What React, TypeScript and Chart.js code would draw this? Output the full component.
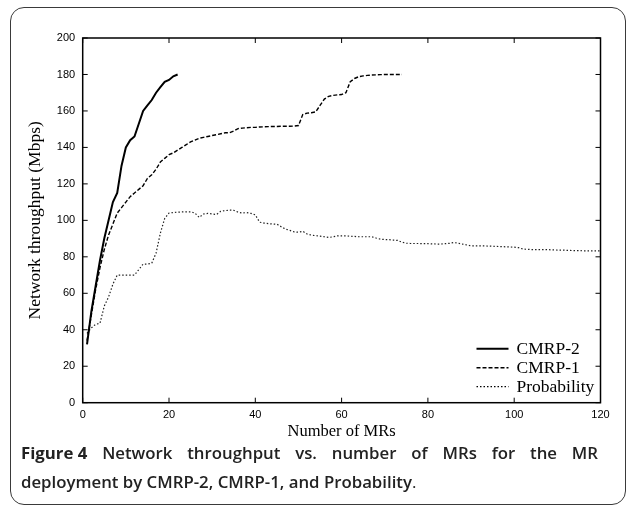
import React, { useEffect, useRef } from "react";
import { Chart, registerables } from "chart.js";

Chart.register(...registerables);

// ---- data ----
const cmrp2MRs = [1, 2, 3, 4, 5, 6, 7, 8, 9, 10, 11, 12, 13, 14, 15, 16, 17, 18, 19, 20, 21, 22];
const cmrp2Throughput = [32, 50, 64, 78, 90, 100, 110, 115, 130, 140, 144, 146, 153, 160, 163, 166, 170, 173, 176, 177, 179, 180];

const cmrp1MRs = [
  1, 2, 3, 4, 5, 6, 7, 8, 9, 10, 11, 12, 13, 14, 15, 16, 17, 18, 19, 20,
  21, 22, 23, 24, 25, 26, 27, 28, 29, 30, 31, 32, 33, 34, 35, 36, 37, 38, 39, 40,
  41, 42, 43, 44, 45, 46, 47, 48, 49, 50, 51, 52, 53, 54, 55, 56, 57, 58, 59, 60,
  61, 62, 63, 64, 65, 66, 67, 68, 69, 70, 71, 72, 73, 74,
];
const cmrp1Throughput = [
  34, 48, 62, 74, 84, 92, 98, 104, 107, 110, 113, 115, 117, 119, 123, 125, 128, 132, 134, 136,
  137, 138.5, 140, 141.5, 143, 144, 145, 145.5, 146, 146.5, 147, 147.5, 148, 148, 149, 150.3, 150.6, 150.8, 151, 151,
  151.2, 151.3, 151.4, 151.5, 151.5, 151.6, 151.6, 151.6, 151.7, 152, 158, 158.8, 159, 159.5, 163, 166.5, 168, 168.5, 168.8, 169,
  170, 176, 177.8, 178.8, 179.2, 179.5, 179.7, 179.8, 179.9, 180, 180, 180, 180, 180,
];

const probMRs = [
  1, 2, 3, 4, 5, 6, 7, 8, 9, 10, 11, 12, 13, 14, 15, 16, 17, 18, 19, 20,
  21, 22, 23, 24, 25, 26, 27, 28, 29, 30, 31, 32, 33, 34, 35, 36, 37, 38, 39, 40,
  41, 42, 43, 44, 45, 46, 47, 48, 49, 50, 51, 52, 53, 54, 55, 56, 57, 58, 59, 60,
  61, 62, 63, 64, 65, 66, 67, 68, 69, 70, 71, 72, 73, 74, 75, 76, 77, 78, 79, 80,
  81, 82, 83, 84, 85, 86, 87, 88, 89, 90, 91, 92, 93, 94, 95, 96, 97, 98, 99, 100,
  101, 102, 103, 104, 105, 106, 107, 108, 109, 110, 111, 112, 113, 114, 115, 116, 117, 118, 119, 120,
];
const probThroughput = [
  38, 41, 43, 43.5, 53, 58, 65, 70, 70, 70, 70, 70, 73, 76, 76, 76.5, 82, 93, 101, 104,
  104.3, 104.5, 104.6, 104.7, 104.7, 104, 101.6, 103.5, 103.8, 103.5, 103.2, 105, 105.3, 105.6, 105.5, 104.5, 104, 104.3, 103.8, 103,
  99, 98.5, 98.2, 98, 97.9, 96.5, 95.2, 94.5, 93.7, 93.5, 94, 92.5, 91.9, 91.6, 91.3, 91, 90.6, 91, 91.5, 91.5,
  91.5, 91.3, 91.2, 91, 91, 91, 91, 90.3, 89.7, 89.5, 89.4, 89.2, 89, 88, 87.5, 87.3, 87.3, 87.3, 87.2, 87.2,
  87.1, 87, 87, 87.2, 87.4, 87.8, 87.5, 87, 86.5, 86, 86, 86, 86, 85.9, 85.8, 85.7, 85.6, 85.5, 85.4, 85.3,
  85, 84.3, 84.1, 84, 84, 84, 84, 83.9, 83.8, 83.7, 83.7, 83.6, 83.5, 83.4, 83.4, 83.3, 83.3, 83.3, 83.3, 83.3,
];

const seriesLabels = ["CMRP-2", "CMRP-1", "Probability"];
const xTitle = "Number of MRs";
const yTitle = "Network throughput (Mbps)";

const toPoints = (xs: number[], ys: number[]) => xs.map((x, i) => ({ x, y: ys[i] }));

const framePlugin = {
  id: "frameTicksLegend",
  afterDraw(chart: any) {
    const { ctx, chartArea: ca, scales } = chart;
    ctx.save();
    ctx.strokeStyle = "#000";
    ctx.lineWidth = 1.5;
    ctx.setLineDash([]);
    ctx.strokeRect(ca.left, ca.top, ca.right - ca.left, ca.bottom - ca.top);
    ctx.lineWidth = 1;
    const tl = 5;
    const seg = (x1: number, y1: number, x2: number, y2: number) => {
      ctx.beginPath();
      ctx.moveTo(x1, y1);
      ctx.lineTo(x2, y2);
      ctx.stroke();
    };
    scales.x.ticks.forEach((t: any) => {
      const px = scales.x.getPixelForValue(t.value);
      seg(px, ca.bottom, px, ca.bottom - tl);
      seg(px, ca.top, px, ca.top + tl);
    });
    scales.y.ticks.forEach((t: any) => {
      const py = scales.y.getPixelForValue(t.value);
      seg(ca.left, py, ca.left + tl, py);
      seg(ca.right, py, ca.right - tl, py);
    });
    // legend (bottom-right inside plot)
    const x0 = ca.right - 124;
    const x1 = ca.right - 92;
    const tx = ca.right - 84;
    const rows = [ca.bottom - 54, ca.bottom - 35, ca.bottom - 16];
    ctx.font = '17.5px "Liberation Serif", "Times New Roman", serif';
    ctx.textBaseline = "middle";
    ctx.textAlign = "left";
    ctx.fillStyle = "#000";
    chart.data.datasets.forEach((ds: any, i: number) => {
      ctx.lineWidth = ds.borderWidth;
      ctx.setLineDash(ds.borderDash || []);
      seg(x0, rows[i], x1, rows[i]);
      ctx.setLineDash([]);
      ctx.fillText(ds.label, tx, rows[i] + 1);
    });
    ctx.restore();
  },
};

function ThroughputChart() {
  const ref = useRef<HTMLCanvasElement | null>(null);
  useEffect(() => {
    if (!ref.current) return;
    const chart = new Chart(ref.current, {
      type: "line",
      data: {
        datasets: [
          {
            label: seriesLabels[0],
            data: toPoints(cmrp2MRs, cmrp2Throughput),
            borderColor: "#000",
            borderWidth: 2,
            borderDash: [],
            pointRadius: 0,
            tension: 0,
          },
          {
            label: seriesLabels[1],
            data: toPoints(cmrp1MRs, cmrp1Throughput),
            borderColor: "#000",
            borderWidth: 1.4,
            borderDash: [4, 2],
            pointRadius: 0,
            tension: 0,
          },
          {
            label: seriesLabels[2],
            data: toPoints(probMRs, probThroughput),
            borderColor: "#222",
            borderWidth: 1.2,
            borderDash: [1.5, 2],
            pointRadius: 0,
            tension: 0,
          },
        ],
      },
      options: {
        animation: false,
        responsive: false,
        maintainAspectRatio: false,
        devicePixelRatio: 1,
        layout: { padding: { left: 24.5, top: 38, right: 26.5, bottom: 3.1 } },
        plugins: { legend: { display: false }, tooltip: { enabled: false } },
        scales: {
          x: {
            type: "linear",
            min: 0,
            max: 120,
            ticks: {
              stepSize: 20,
              padding: 6,
              color: "#000",
              font: { family: '"Liberation Sans", Arial, sans-serif', size: 11 },
              maxRotation: 0,
            },
            grid: { display: false, drawTicks: false },
            border: { display: false },
            title: {
              display: true,
              text: xTitle,
              color: "#000",
              padding: 0,
              font: { family: '"Liberation Serif", "Times New Roman", serif', size: 16.5 },
            },
            afterFit: (s: any) => {
              s.height = 39.2;
            },
          },
          y: {
            type: "linear",
            min: 0,
            max: 200,
            ticks: {
              stepSize: 20,
              padding: 7.5,
              color: "#000",
              font: { family: '"Liberation Sans", Arial, sans-serif', size: 11 },
            },
            grid: { display: false, drawTicks: false },
            border: { display: false },
            title: {
              display: true,
              text: yTitle,
              color: "#000",
              padding: 0,
              font: { family: '"Liberation Serif", "Times New Roman", serif', size: 17.5 },
            },
            afterFit: (s: any) => {
              s.width = 58.2;
            },
          },
        },
      },
      plugins: [framePlugin],
    });
    return () => chart.destroy();
  }, []);
  return (
    <canvas
      ref={ref}
      width={627}
      height={445}
      style={{ position: "absolute", left: 0, top: 0, width: 627, height: 445 }}
    />
  );
}

export default function App() {
  return (
    <div style={{ position: "absolute", left: 0, top: 0, width: 627, height: 514, background: "#fff" }}>
      <div
        style={{
          position: "absolute",
          left: 10,
          top: 7,
          width: 616,
          height: 498,
          boxSizing: "border-box",
          border: "1.5px solid #3a3a3a",
          borderRadius: 14,
        }}
      />
      <ThroughputChart />
      <div
        style={{
          position: "absolute",
          left: 21,
          top: 438,
          width: 577,
          fontFamily: '"Open Sans", "Noto Sans", sans-serif',
          fontSize: 16.8,
          lineHeight: "29px",
          color: "#222",
          fontWeight: 600,
        }}
      >
        <div style={{ textAlign: "justify", textAlignLast: "justify", whiteSpace: "nowrap" }}>
          <span style={{ fontWeight: 700, display: "inline-block" }}>Figure 4</span> Network throughput vs. number of MRs for the MR
        </div>
        <div style={{ whiteSpace: "nowrap" }}>
          deployment by CMRP-2, CMRP-1, and Probability<span style={{ fontWeight: 400 }}>.</span>
        </div>
      </div>
    </div>
  );
}
